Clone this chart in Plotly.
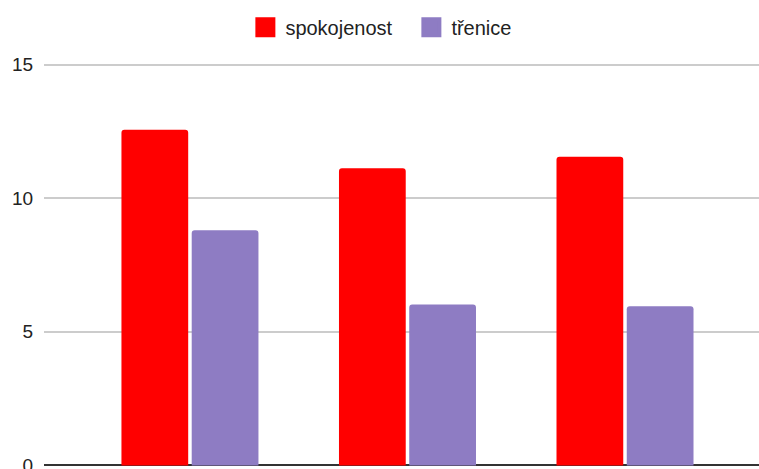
import plotly.graph_objects as go

categories = ["A", "B", "C"]
spokojenost = [12.56, 11.12, 11.55]
trenice = [8.8, 6.02, 5.96]
series_names = ["spokojenost", "třenice"]
colors = ["#ff0000", "#8e7cc3"]
y_ticks = [0, 5, 10, 15]

fig = go.Figure()
for name, vals, col in zip(series_names, [spokojenost, trenice], colors):
    fig.add_trace(go.Bar(x=categories, y=vals, name=name, marker=dict(color=col, line=dict(width=0)),
                         showlegend=False))
for name, col in zip(series_names, colors):
    fig.add_trace(go.Scatter(x=[None], y=[None], mode="markers", name=name,
                             marker=dict(symbol="square", size=16, color=col,
                                         line=dict(color=col, width=4))))

fig.update_layout(
    width=759, height=469,
    margin=dict(l=44, r=0, t=63, b=2),
    paper_bgcolor="white", plot_bgcolor="white",
    barmode="group", bargap=0.354, bargroupgap=0.05, barcornerradius=3,
    font=dict(family="Liberation Sans, Arial, sans-serif", color="#222222"),
    legend=dict(orientation="h", xref="container", yref="container",
                x=0.542, xanchor="center", y=0.942, yanchor="middle",
                entrywidth=121,
                font=dict(size=20, color="#222222"), itemclick=False),
    xaxis=dict(type="category", range=[-0.671, 2.616], showticklabels=False,
               showgrid=False, zeroline=False, showline=False, fixedrange=True),
    yaxis=dict(range=[-0.06, 15.06], tickvals=y_ticks, showgrid=True, gridcolor="#cccccc",
               gridwidth=1.5, zeroline=True, zerolinecolor="#333333", zerolinewidth=2,
               ticks="outside", ticklen=6, tickcolor="rgba(0,0,0,0)", automargin=False,
               ticklabeloverflow="allow",
               tickfont=dict(size=19, color="#222222"), fixedrange=True),
)

fig.write_html("out.html", config={"displayModeBar": False},
               post_script="document.body.style.margin='0';document.body.style.overflow='hidden';")
